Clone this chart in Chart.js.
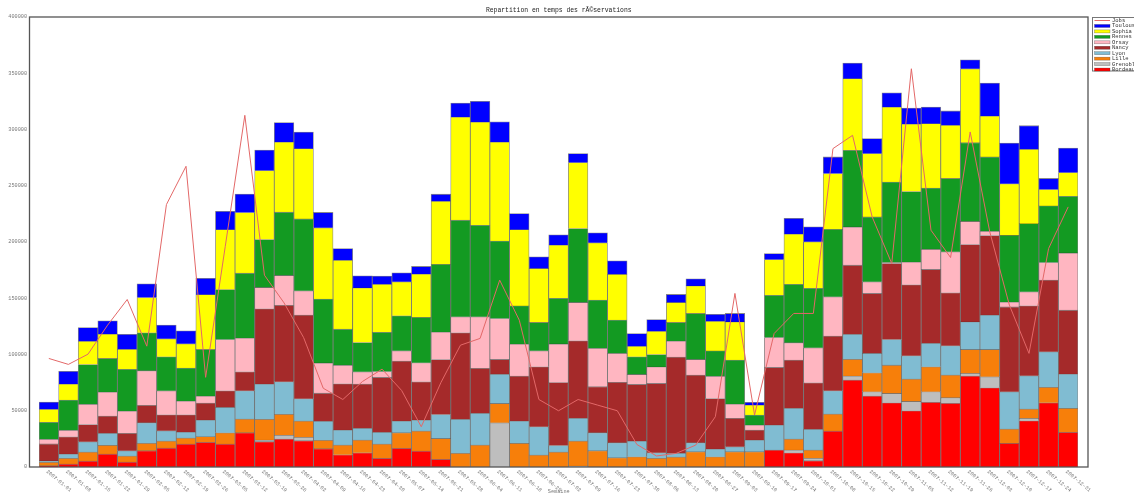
<!DOCTYPE html>
<html>
<head>
<meta charset="utf-8">
<script src="https://cdn.jsdelivr.net/npm/chart.js@4.4.1/dist/chart.umd.min.js"></script>
<style>
html, body { margin: 0; padding: 0; background: #fff; }
</style>
</head>
<body>
<canvas id="chart01" width="1134" height="495"></canvas>
<script>
const weeks = ['2007-01-01', '2007-01-08', '2007-01-15', '2007-01-22', '2007-01-29', '2007-02-05', '2007-02-12', '2007-02-19', '2007-02-26',
    '2007-03-05', '2007-03-12', '2007-03-19', '2007-03-26', '2007-04-02', '2007-04-09', '2007-04-16', '2007-04-23', '2007-04-30',
    '2007-05-07', '2007-05-14', '2007-05-21', '2007-05-28', '2007-06-04', '2007-06-11', '2007-06-18', '2007-06-25', '2007-07-02',
    '2007-07-09', '2007-07-16', '2007-07-23', '2007-07-30', '2007-08-06', '2007-08-13', '2007-08-20', '2007-08-27', '2007-09-03',
    '2007-09-10', '2007-09-17', '2007-09-24', '2007-10-01', '2007-10-08', '2007-10-15', '2007-10-22', '2007-10-29', '2007-11-05',
    '2007-11-12', '2007-11-19', '2007-11-26', '2007-12-03', '2007-12-10', '2007-12-17', '2007-12-24', '2007-12-31'];

// stacked from the bottom up
const bordeaux = [1200, 2700, 5300, 11500, 4400, 14500, 16900, 20400, 22000, 20400, 30500, 22500, 24900, 23400, 16300, 10900, 12700, 7700, 16600, 14200, 6800,
    0, 0, 0, 0, 0, 0, 0, 0, 0, 0, 0, 0, 0, 0, 0, 0,
    15100, 12700, 5600, 32000, 77300, 63100, 57100, 50000, 57500, 56600, 80800, 70400, 21000, 41100, 57100, 30800];
const grenoble = [0, 0, 0, 0, 0, 0, 0, 0, 0, 0, 0, 1500, 3300, 3000, 0, 0, 0, 0, 0, 0, 0, 0, 0, 39300, 0, 0, 0, 800,
    0, 0, 0, 0, 0, 0, 0, 0, 0, 0, 2400, 2100, 0, 3600, 3800, 8300, 8300, 9400, 5000, 2400, 9800, 0, 2100, 0, 0];
const lille = [3000, 5000, 8000, 7700, 5300, 6600, 6200, 5300, 5000, 10000, 12200, 18400, 18600, 14500, 7500, 8600, 11300, 12700, 13900, 17800,
    18600, 12200, 19500, 17200, 21000, 10700, 13300, 22300, 14500, 8300, 9100, 7700, 8900, 13600, 9100, 13600, 13600, 0, 9800, 7400,
    15100, 14800, 16900, 25100, 19900, 22200, 20200, 21300, 24300, 12700, 8300, 13700, 21300];
const lyon = [1200, 3800, 9100, 10700, 4700, 18300, 9100, 5300, 14700, 22600, 25100, 31300, 29000, 19800, 16900, 13300, 10400, 10400, 10400, 9800,
    21300, 30200, 28200, 26000, 19800, 25100, 5800, 20200, 16000, 13300, 13900, 5000, 3300, 8000, 6800, 4400, 10400, 22200, 27300, 18400,
    20700, 22200, 17200, 22800, 20700, 20800, 26000, 24500, 30500, 33100, 29600, 31600, 30500];
const nancy = [15100, 15400, 15400, 15400, 15600, 15500, 14200, 15400, 15100, 14700, 16900, 66900, 67900, 74300, 24900, 41100, 39300, 48800, 53300, 34000,
    48800, 76900, 40000, 13100, 40000, 53300, 55900, 68900, 40900, 53600, 50400, 61600, 85500, 60100, 45000, 25200, 8900, 51200, 42900, 41400,
    48600, 61500, 53300, 67500, 63100, 65700, 47100, 68700, 70800, 75500, 62200, 63700, 56800];
const orsay = [4200, 5700, 18000, 21300, 19800, 30700, 21300, 12200, 6200, 45600, 29900, 19000, 26600, 21600, 26900, 16600, 10900, 5300, 9100, 16900,
    24500, 14200, 45800, 36400, 28400, 14200, 34400, 34100, 34100, 25800, 8900, 14700, 14200, 13900, 19800, 12700, 4400, 26600, 15400, 31100,
    34900, 34000, 10300, 900, 20200, 18000, 36400, 20700, 3800, 4400, 12400, 15700, 50900];
const rennes = [15100, 26900, 35300, 29900, 37000, 33700, 30200, 29300, 41500, 44400, 57700, 42600, 56200, 63900, 56800, 32000, 26100, 34900, 31100, 40300,
    60100, 85900, 81400, 68900, 34000, 25200, 40600, 65700, 42900, 29600, 15600, 11000, 16600, 40900, 22500, 39100, 8900, 37600, 51900, 52800,
    59900, 68100, 57700, 71600, 62700, 54400, 65200, 69900, 66000, 59200, 60700, 50300, 50400];
const sophia = [11500, 14200, 20700, 21600, 17800, 31400, 16000, 21600, 48700, 53300, 53900, 61300, 62400, 62500, 63300, 61300, 48500, 42600, 30200, 38500,
    56200, 91700, 91700, 87900, 67800, 48000, 47300, 58600, 50900, 40600, 9500, 20700, 17800, 24500, 26400, 34000, 8900, 31700, 44700, 41400,
    49700, 63700, 56300, 66600, 59900, 57200, 47300, 65700, 36400, 45900, 66000, 14600, 21000];
const toulouse = [6500, 11300, 12200, 11800, 13300, 12100, 12200, 11500, 14500, 16300, 16500, 18300, 17200, 14700, 13700, 10400, 10700, 7400, 8000, 6800,
    6200, 12400, 18400, 18100, 14200, 10300, 9100, 8000, 8900, 12100, 11300, 10400, 7100, 6200, 6200, 7500, 2400, 5300, 13900, 13300,
    14700, 13900, 13300, 12800, 14200, 14700, 12700, 8000, 29300, 36100, 21000, 9800, 21800];
const jobs = [96500, 91200, 100300, 126100, 148900, 107400, 233300, 267300, 79700, 196000, 312600, 170500, 145900, 115000, 70000, 60000, 76000, 87000, 68000, 35800,
    75000, 108300, 114300, 166100, 130500, 60000, 50000, 60000, 55000, 50000, 20000, 9800, 12100, 19500, 44700, 154300, 46200, 118700, 136500, 136500,
    283000, 294800, 222300, 180900, 354000, 210500, 186200, 297800, 209000, 143900, 101000, 194200, 231200];
const yTicks = [0, 50000, 100000, 150000, 200000, 250000, 300000, 350000, 400000];

const chartTitle = 'Repartition en temps des rÃ©servations';
const xTitle = 'Semaine';
const mono = 'Liberation Mono';

function barSet(label, data, color) {
    return {
        label: label,
        data: data,
        backgroundColor: color,
        borderColor: 'rgba(40,40,40,0.55)',
        borderWidth: 0.8,
        categoryPercentage: 1,
        barPercentage: 1,
        order: 1
    };
}

const decor = {
    id: 'decor',
    afterDraw(chart) {
        const ctx = chart.ctx;
        const a = chart.chartArea;
        const xs = chart.scales.x;
        const left = a.left - 9.5;
        const right = a.right + 10;
        ctx.save();

        // frame
        ctx.strokeStyle = '#555';
        ctx.lineWidth = 1.3;
        ctx.strokeRect(left, a.top, right - left, a.bottom - a.top);

        // title
        ctx.fillStyle = '#222';
        ctx.font = '6.4px "' + mono + '"';
        ctx.textAlign = 'center';
        ctx.textBaseline = 'middle';
        ctx.fillText(chartTitle, (left + right) / 2, 10.5);

        // x labels, slanted down to the right
        ctx.fillStyle = '#777';
        ctx.font = '5.2px "' + mono + '"';
        ctx.textAlign = 'left';
        weeks.forEach((w, i) => {
            ctx.save();
            ctx.translate(xs.getPixelForValue(i) - 2, a.bottom + 4);
            ctx.rotate(40 * Math.PI / 180);
            ctx.fillText(w, 0, 0);
            ctx.restore();
        });
        ctx.textAlign = 'center';
        ctx.fillText(xTitle, (left + right) / 2, 492);

        // legend
        const lx = right + 4;
        ctx.fillStyle = '#fff';
        ctx.fillRect(lx, 17.5, 60, 53.5);
        ctx.strokeStyle = '#777';
        ctx.lineWidth = 1;
        ctx.strokeRect(lx + 0.5, 17.5, 60, 53.5);
        ctx.font = '5.5px "' + mono + '"';
        ctx.textAlign = 'left';
        const items = chart.data.datasets.slice().reverse();
        items.forEach((ds, i) => {
            const y = 20.5 + i * 5.45;
            if (ds.type === 'line') {
                ctx.strokeStyle = ds.borderColor;
                ctx.lineWidth = 1;
                ctx.beginPath();
                ctx.moveTo(lx + 2.5, y);
                ctx.lineTo(lx + 18, y);
                ctx.stroke();
            } else {
                ctx.fillStyle = ds.backgroundColor;
                ctx.fillRect(lx + 2.5, y - 1.5, 15.5, 3);
                ctx.strokeStyle = 'rgba(40,40,40,0.5)';
                ctx.lineWidth = 0.5;
                ctx.strokeRect(lx + 2.5, y - 1.5, 15.5, 3);
            }
            ctx.fillStyle = '#333';
            ctx.textBaseline = 'middle';
            ctx.fillText(ds.label, lx + 20, y);
        });
        ctx.restore();
    }
};

const ctx01 = document.getElementById('chart01');
const mainChart = new Chart(ctx01, {
    type: 'bar',
    data: {
        labels: weeks,
        datasets: [
            barSet('Bordeaux', bordeaux, '#ff0000'),
            barSet('Grenoble', grenoble, '#bebebe'),
            barSet('Lille', lille, '#f77f0a'),
            barSet('Lyon', lyon, '#80bcd2'),
            barSet('Nancy', nancy, '#a52a2a'),
            barSet('Orsay', orsay, '#ffb6c1'),
            barSet('Rennes', rennes, '#139a22'),
            barSet('Sophia', sophia, '#ffff00'),
            barSet('Toulouse', toulouse, '#0000ff'),
            {
                type: 'line',
                label: 'Jobs',
                data: jobs,
                borderColor: '#e36868',
                borderWidth: 1,
                pointRadius: 0,
                tension: 0,
                fill: false,
                stack: 'jobs',
                order: 0
            }
        ]
    },
    options: {
        responsive: false,
        animation: false,
        layout: { padding: { top: 17, right: 56, bottom: 28, left: 0 } },
        plugins: { legend: { display: false }, tooltip: { enabled: false } },
        scales: {
            x: {
                stacked: true,
                offset: true,
                ticks: { display: false },
                grid: { display: false },
                border: { display: false },
                afterFit(s) { s.height = 0; }
            },
            y: {
                stacked: true,
                min: 0,
                max: 400000,
                afterBuildTicks(s) { s.ticks = yTicks.map(v => ({ value: v })); },
                ticks: {
                    color: '#777',
                    padding: 12,
                    font: { size: 5.2, family: mono },
                    callback: v => String(v)
                },
                grid: { display: false, drawTicks: false },
                border: { display: false },
                afterFit(s) { s.width = 39; }
            }
        }
    },
    plugins: [decor]
});
</script>
</body>
</html>
